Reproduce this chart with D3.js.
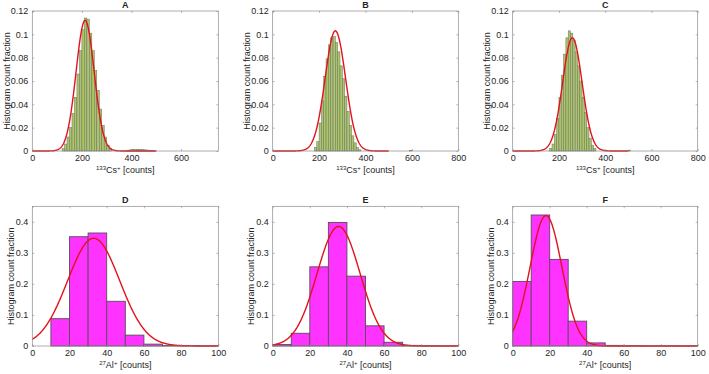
<!DOCTYPE html>
<html>
<head>
<meta charset="utf-8">
<script src="https://cdn.jsdelivr.net/npm/d3@7/dist/d3.min.js"></script>
<style>
  body { margin: 0; background: #fff; }
  text { font-family: "Liberation Sans", Arial, sans-serif; fill: #262626; }
</style>
</head>
<body>
<div class="chart"></div>
<script>
const WIDTH = 709;
const HEIGHT = 374;
const BIN_CS = 10;
const BIN_AL = 10;

// 133Cs+ histograms (left bin edges, fraction per bin)
var aBins = [120, 130, 140, 150, 160, 170, 180, 190, 200, 210, 220, 230, 240, 250, 260, 270, 280, 290, 300, 310, 380, 390, 400, 410, 420, 430, 440, 450, 460, 470, 480];
var aFrac = [0.002, 0.006, 0.012, 0.020, 0.032, 0.046, 0.066, 0.086, 0.104, 0.114, 0.113, 0.101, 0.086, 0.069, 0.052, 0.036, 0.022, 0.012, 0.005, 0.002, 0.0005, 0.001, 0.0015, 0.0015, 0.0015, 0.0015, 0.0012, 0.001, 0.0008, 0.0005, 0.0004];
var bBins = [180, 190, 200, 210, 220, 230, 240, 250, 260, 270, 280, 290, 300, 310, 320, 330, 340, 350, 360, 370, 590];
var bFrac = [0.003, 0.008, 0.024, 0.043, 0.064, 0.079, 0.091, 0.097, 0.098, 0.093, 0.085, 0.073, 0.062, 0.047, 0.034, 0.022, 0.013, 0.007, 0.003, 0.001, 0.0006];
var cBins = [160, 170, 180, 190, 200, 210, 220, 230, 240, 250, 260, 270, 280, 290, 300, 310, 320, 330, 340, 350, 500];
var cFrac = [0.002, 0.006, 0.014, 0.028, 0.046, 0.065, 0.083, 0.097, 0.103, 0.101, 0.095, 0.085, 0.073, 0.060, 0.046, 0.033, 0.020, 0.011, 0.005, 0.002, 0.0008];

// 27Al+ histograms
var dBins = [10, 20, 30, 40, 50, 60, 70, 80, 90];
var dFrac = [0.088, 0.352, 0.364, 0.144, 0.035, 0.006, 0.0015, 0.0008, 0.0005];
var eBins = [0, 10, 20, 30, 40, 50, 60, 70, 80, 90];
var eFrac = [0.005, 0.041, 0.255, 0.398, 0.225, 0.065, 0.012, 0.002, 0.0008, 0.0005];
var fBins = [0, 10, 20, 30, 40, 50, 60, 70, 80, 90];
var fFrac = [0.208, 0.422, 0.279, 0.080, 0.010, 0.002, 0.0008, 0.0005, 0.0005, 0.0005];

// normal fits: [peak, mean, sigma]
var aFit = [0.112, 213, 36.5];
var bFit = [0.103, 270, 44];
var cFit = [0.097, 258, 42];
var dFit = [0.347, 33, 14];
var eFit = [0.385, 35.5, 11.6];
var fFit = [0.42, 18, 8.6];

var csXTicksA = [0, 200, 400, 600];
var csXTicks = [0, 200, 400, 600, 800];
var csYTicks = [0, 0.02, 0.04, 0.06, 0.08, 0.1, 0.12];
var alXTicks = [0, 20, 40, 60, 80, 100];
var alYTicks = [0, 0.1, 0.2, 0.3, 0.4];

var titles = ['A', 'B', 'C', 'D', 'E', 'F'];

var colLeft = [32.3, 272.7, 512.7];
var colRight = [218.3, 458.3, 697.7];
var ylabX = [[7, 247, 487], [11, 251, 491]];
var rowTop = [11, 206.3];
var rowBottom = [151, 346];

var panels = [
    {bins: aBins, frac: aFrac, fit: aFit, xmax: 750, xticks: csXTicksA, fitMax: 500, row: 0, col: 0, kind: 'cs'},
    {bins: bBins, frac: bFrac, fit: bFit, xmax: 800, xticks: csXTicks, fitMax: 500, row: 0, col: 1, kind: 'cs'},
    {bins: cBins, frac: cFrac, fit: cFit, xmax: 800, xticks: csXTicks, fitMax: 500, row: 0, col: 2, kind: 'cs'},
    {bins: dBins, frac: dFrac, fit: dFit, xmax: 100, xticks: alXTicks, fitMax: 100, row: 1, col: 0, kind: 'al'},
    {bins: eBins, frac: eFrac, fit: eFit, xmax: 100, xticks: alXTicks, fitMax: 100, row: 1, col: 1, kind: 'al'},
    {bins: fBins, frac: fFrac, fit: fFit, xmax: 100, xticks: alXTicks, fitMax: 100, row: 1, col: 2, kind: 'al'}
];

var svg = d3.select('.chart').append('svg')
    .attr('width', WIDTH)
    .attr('height', HEIGHT);

function fmtTick(d) {
    return String(+d.toFixed(2));
}

function drawPanel(p, i) {
    var x0 = colLeft[p.col], x1 = colRight[p.col];
    var y0 = rowTop[p.row], y1 = rowBottom[p.row];
    var isCs = p.kind === 'cs';
    var binW = isCs ? BIN_CS : BIN_AL;
    var yTicks = isCs ? csYTicks : alYTicks;

    var xScale = d3.scaleLinear().domain([0, p.xmax]).range([x0, x1]);
    var yScale = d3.scaleLinear().domain([0, isCs ? 0.12 : 0.45]).range([y1, y0]);

    var g = svg.append('g');

    // bars
    g.selectAll('rect.bar')
        .data(p.bins.map(function (b, j) { return {x: b, v: p.frac[j]}; }))
        .enter().append('rect')
        .attr('class', 'bar')
        .attr('x', function (d) { return xScale(d.x); })
        .attr('width', function (d) { return xScale(d.x + binW) - xScale(d.x); })
        .attr('y', function (d) { return yScale(d.v); })
        .attr('height', function (d) { return yScale(0) - yScale(d.v); })
        .attr('fill', isCs ? '#aac665' : '#ff33ff')
        .attr('stroke', isCs ? '#6e6e6e' : '#5c4a5c')
        .attr('stroke-width', isCs ? 0.5 : 0.9);

    // fitted normal curve
    var fit = p.fit;
    var pts = d3.range(0, p.fitMax + 0.001, p.fitMax / 400).map(function (xv) {
        return {x: xv, y: fit[0] * Math.exp(-Math.pow(xv - fit[1], 2) / (2 * fit[2] * fit[2]))};
    });
    var line = d3.line()
        .x(function (d) { return xScale(d.x); })
        .y(function (d) { return yScale(d.y); });
    g.append('path')
        .attr('d', line(pts))
        .attr('fill', 'none')
        .attr('stroke', '#e3121b')
        .attr('stroke-width', 1.4);

    // axes with inward ticks
    var xAxis = d3.axisBottom(xScale).tickValues(p.xticks).tickSize(-2).tickPadding(4).tickFormat(fmtTick);
    var yAxis = d3.axisLeft(yScale).tickValues(yTicks).tickSize(-2).tickPadding(4).tickFormat(fmtTick);
    var xTop = d3.axisTop(xScale).tickValues(p.xticks).tickSize(-2).tickFormat('');
    var yRight = d3.axisRight(yScale).tickValues(yTicks).tickSize(-2).tickFormat('');

    [[xAxis, 'translate(0,' + y1 + ')'], [yAxis, 'translate(' + x0 + ',0)'],
     [xTop, 'translate(0,' + y0 + ')'], [yRight, 'translate(' + x1 + ',0)']].forEach(function (a) {
        var ag = g.append('g').attr('transform', a[1]).call(a[0]);
        ag.select('.domain').remove();
        ag.selectAll('line').attr('stroke', '#8a8a8a').attr('stroke-width', 0.6);
        ag.selectAll('text').attr('font-size', 9).attr('fill', '#262626')
            .style('font-family', '"Liberation Sans", Arial, sans-serif');
    });

    g.append('rect')
        .attr('x', x0).attr('y', y0)
        .attr('width', x1 - x0).attr('height', y1 - y0)
        .attr('fill', 'none')
        .attr('stroke', '#8a8a8a')
        .attr('stroke-width', 0.7);

    // title
    g.append('text')
        .attr('x', (x0 + x1) / 2)
        .attr('y', y0 - 3.5)
        .attr('text-anchor', 'middle')
        .attr('font-size', 9)
        .attr('font-weight', 'bold')
        .text(titles[i]);

    // y label
    g.append('text')
        .attr('transform', 'translate(' + ylabX[p.row][p.col] + ',' + (y0 + y1) / 2 + ') rotate(-90)')
        .attr('text-anchor', 'middle')
        .attr('dy', '0.35em')
        .attr('font-size', 9)
        .text('Histogram count fraction');

    // x label with superscripts
    var xl = g.append('text')
        .attr('x', (x0 + x1) / 2)
        .attr('y', y1 + 22)
        .attr('text-anchor', 'middle')
        .attr('font-size', 9);
    xl.append('tspan').attr('font-size', 6).attr('dy', -3).text(isCs ? '133' : '27');
    xl.append('tspan').attr('dy', 3).text(isCs ? 'Cs' : 'Al');
    xl.append('tspan').attr('font-size', 6).attr('dy', -3).text('+');
    xl.append('tspan').attr('dy', 3).text(' [counts]');
}

panels.forEach(drawPanel);
</script>
</body>
</html>
